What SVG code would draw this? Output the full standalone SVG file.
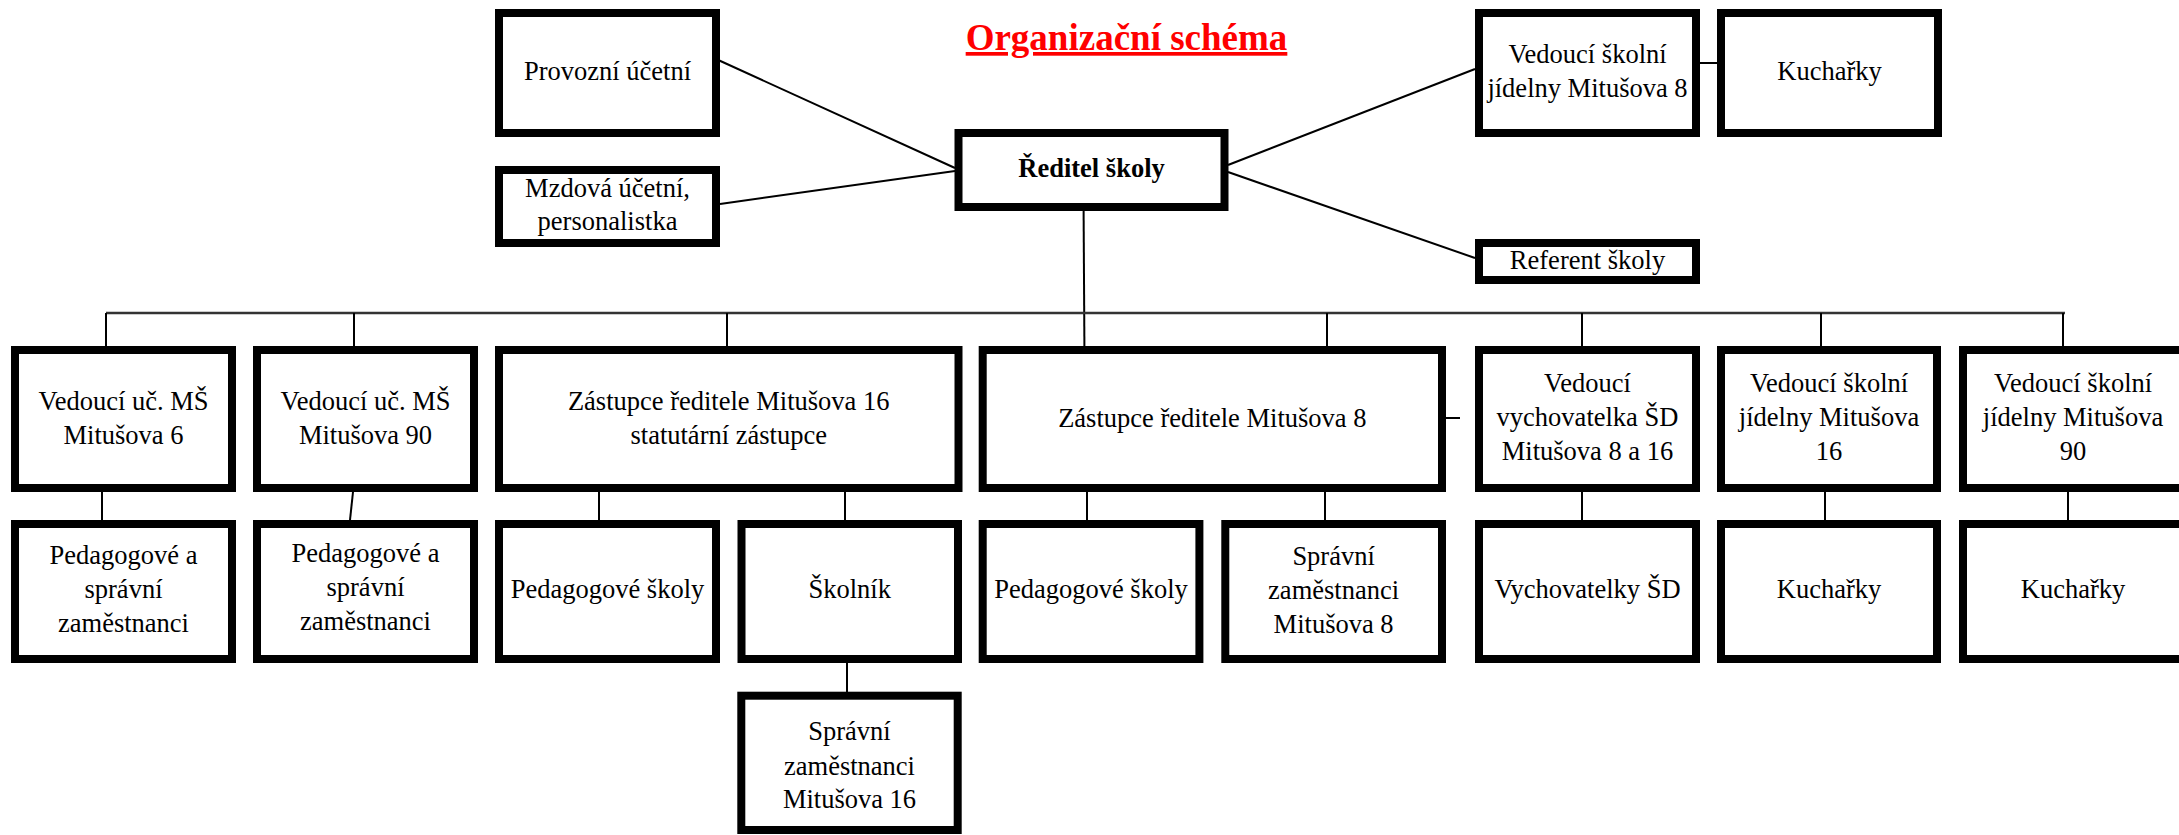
<svg xmlns="http://www.w3.org/2000/svg" width="2179" height="835" viewBox="0 0 2179 835">
<style>
.box{fill:#fff;stroke:#000;stroke-width:8}
.t{font-family:"Liberation Serif","Times New Roman",serif;font-size:26.5px;fill:#000;text-anchor:middle}
.b{font-weight:bold}
.c{stroke:#000;stroke-width:2;fill:none}
.bus{stroke:#333;stroke-width:2.5;fill:none}
.title{font-family:"Liberation Serif","Times New Roman",serif;font-size:37px;font-weight:bold;fill:#f00;text-anchor:middle;text-decoration:underline}
</style>
<rect width="2179" height="835" fill="#fff"/>
<text class="title" x="1126.5" y="50">Organizační schéma</text>
<g id="connectors">
<line class="c" x1="716" y1="59" x2="955" y2="168"/>
<line class="c" x1="720" y1="204" x2="955" y2="171"/>
<line class="c" x1="1228" y1="165" x2="1475" y2="69"/>
<line class="c" x1="1228" y1="172" x2="1475" y2="258"/>
<line class="c" x1="1700" y1="63" x2="1717" y2="63" stroke-width="3"/>
<line class="c" x1="1083.6" y1="211" x2="1084.4" y2="346"/>
<line class="bus" x1="106" y1="313" x2="2065" y2="313"/>
<line class="c" x1="106" y1="313" x2="106" y2="346"/>
<line class="c" x1="354" y1="313" x2="354" y2="346"/>
<line class="c" x1="727" y1="313" x2="727" y2="346"/>
<line class="c" x1="1327" y1="313" x2="1327" y2="346"/>
<line class="c" x1="1582" y1="313" x2="1582" y2="346"/>
<line class="c" x1="1821" y1="313" x2="1821" y2="346"/>
<line class="c" x1="2063" y1="313" x2="2063" y2="346"/>
<line class="c" x1="102" y1="492" x2="102" y2="520"/>
<line class="c" x1="353" y1="492" x2="350" y2="520"/>
<line class="c" x1="599" y1="492" x2="599" y2="520"/>
<line class="c" x1="845" y1="492" x2="845" y2="520"/>
<line class="c" x1="1087" y1="492" x2="1087" y2="520"/>
<line class="c" x1="1325" y1="492" x2="1325" y2="520"/>
<line class="c" x1="1582" y1="492" x2="1582" y2="520"/>
<line class="c" x1="1825" y1="492" x2="1825" y2="520"/>
<line class="c" x1="2068" y1="492" x2="2068" y2="520"/>
<line class="c" x1="847" y1="663" x2="847" y2="692"/>
<line class="c" x1="1446" y1="418" x2="1460" y2="418" stroke-width="3"/>
</g>
<g id="provozni"><rect class="box" x="499" y="13" width="217" height="120"/><text class="t" x="607.5" y="80">Provozní účetní</text></g>
<g id="mzdova"><rect class="box" x="499" y="170" width="217" height="73"/><text class="t" x="607.5" y="197">Mzdová účetní,</text><text class="t" x="607.5" y="230">personalistka</text></g>
<g id="reditel"><rect class="box" x="958.5" y="133" width="266" height="74"/><text class="t b" x="1091.5" y="177">Ředitel školy</text></g>
<g id="vsj8"><rect class="box" x="1479" y="13" width="217" height="120"/><text class="t" x="1587.5" y="63">Vedoucí školní</text><text class="t" x="1587.5" y="97">jídelny Mitušova 8</text></g>
<g id="kucharky8"><rect class="box" x="1721" y="13" width="217" height="120"/><text class="t" x="1829.5" y="80">Kuchařky</text></g>
<g id="referent"><rect class="box" x="1479" y="243" width="217" height="37"/><text class="t" x="1587.5" y="269">Referent školy</text></g>
<g id="ms6"><rect class="box" x="15" y="350" width="217" height="138"/><text class="t" x="123.5" y="410">Vedoucí uč. MŠ</text><text class="t" x="123.5" y="444">Mitušova 6</text></g>
<g id="ms90"><rect class="box" x="257" y="350" width="217" height="138"/><text class="t" x="365.5" y="410">Vedoucí uč. MŠ</text><text class="t" x="365.5" y="444">Mitušova 90</text></g>
<g id="zast16"><rect class="box" x="499" y="350" width="459.5" height="138"/><text class="t" x="728.7" y="410">Zástupce ředitele Mitušova 16</text><text class="t" x="728.7" y="444">statutární zástupce</text></g>
<g id="zast8"><rect class="box" x="982.7" y="350" width="459.3" height="138"/><text class="t" x="1212.3" y="427">Zástupce ředitele Mitušova 8</text></g>
<g id="vychovatelka"><rect class="box" x="1479" y="350" width="217" height="138"/><text class="t" x="1587.5" y="392">Vedoucí</text><text class="t" x="1587.5" y="426">vychovatelka ŠD</text><text class="t" x="1587.5" y="460">Mitušova 8 a 16</text></g>
<g id="vsj16"><rect class="box" x="1721" y="350" width="216" height="138"/><text class="t" x="1829" y="392">Vedoucí školní</text><text class="t" x="1829" y="426">jídelny Mitušova</text><text class="t" x="1829" y="460">16</text></g>
<g id="vsj90"><rect class="box" x="1963" y="350" width="220" height="138"/><text class="t" x="2073" y="392">Vedoucí školní</text><text class="t" x="2073" y="426">jídelny Mitušova</text><text class="t" x="2073" y="460">90</text></g>
<g id="ped6"><rect class="box" x="15" y="524" width="217" height="135"/><text class="t" x="123.5" y="564">Pedagogové a</text><text class="t" x="123.5" y="598">správní</text><text class="t" x="123.5" y="632">zaměstnanci</text></g>
<g id="ped90"><rect class="box" x="257" y="524" width="217" height="135"/><text class="t" x="365.5" y="562">Pedagogové a</text><text class="t" x="365.5" y="596">správní</text><text class="t" x="365.5" y="630">zaměstnanci</text></g>
<g id="ped16"><rect class="box" x="499" y="524" width="217" height="135"/><text class="t" x="607.5" y="598">Pedagogové školy</text></g>
<g id="skolnik"><rect class="box" x="741.5" y="524" width="216.5" height="135"/><text class="t" x="849.7" y="598">Školník</text></g>
<g id="ped8"><rect class="box" x="982.7" y="524" width="216.7" height="135"/><text class="t" x="1091" y="598">Pedagogové školy</text></g>
<g id="spravni8"><rect class="box" x="1225.3" y="524" width="216.7" height="135"/><text class="t" x="1333.6" y="565">Správní</text><text class="t" x="1333.6" y="599">zaměstnanci</text><text class="t" x="1333.6" y="633">Mitušova 8</text></g>
<g id="vychovatelky"><rect class="box" x="1479" y="524" width="217" height="135"/><text class="t" x="1587.5" y="598">Vychovatelky ŠD</text></g>
<g id="kucharky16"><rect class="box" x="1721" y="524" width="216" height="135"/><text class="t" x="1829" y="598">Kuchařky</text></g>
<g id="kucharky90"><rect class="box" x="1963" y="524" width="220" height="135"/><text class="t" x="2073" y="598">Kuchařky</text></g>
<g id="spravni16"><rect class="box" x="741.3" y="695.7" width="216.4" height="134.3"/><text class="t" x="849.5" y="740">Správní</text><text class="t" x="849.5" y="775">zaměstnanci</text><text class="t" x="849.5" y="808">Mitušova 16</text></g>
</svg>
